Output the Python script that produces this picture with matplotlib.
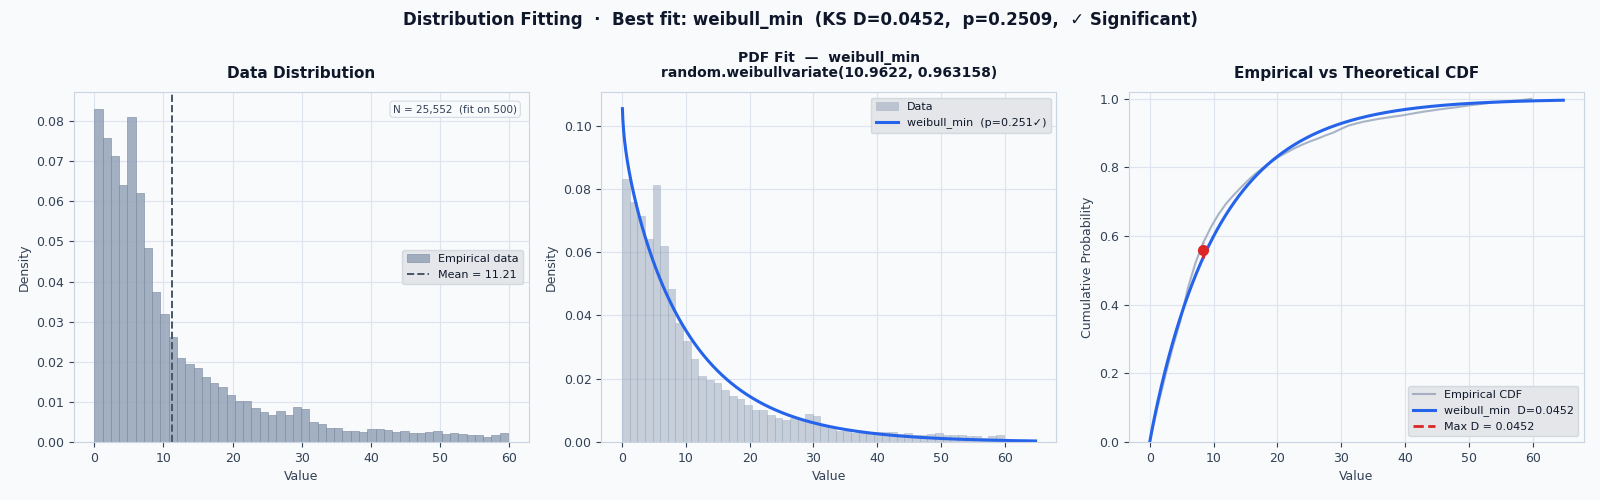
import numpy as np
import matplotlib.pyplot as plt

# histogram densities (50 bins, 0 .. 59.8)
bin_lo = 0.0
bin_hi = 59.8
density = [0.0831, 0.0758, 0.0714, 0.0641, 0.0811, 0.0620, 0.0484, 0.0375, 0.0318, 0.0263,
           0.0210, 0.0195, 0.0185, 0.0163, 0.0146, 0.0136, 0.0118, 0.0101, 0.0101, 0.0086,
           0.0076, 0.0068, 0.0077, 0.0068, 0.0088, 0.0083, 0.0051, 0.0046, 0.0035, 0.0035,
           0.0028, 0.0028, 0.0026, 0.0033, 0.0033, 0.0031, 0.0026, 0.0028, 0.0023, 0.0023,
           0.0026, 0.0028, 0.0021, 0.0023, 0.0021, 0.0018, 0.0018, 0.0013, 0.0018, 0.0023]

# fitted weibull_min parameters and stats
shape = 0.963158
scale = 10.9622
mean_val = 11.21
ks_d = 0.0452
p_val = 0.2509
n_total = 25552
n_fit = 500
x_max_curve = 64.8

BG = '#f8fafc'
SPINE = '#cbd5e1'
GRID = '#dde4ee'
TXT = '#0f172a'
TICK = '#334155'
BAR = '#94a3b8'
BLUE = '#2563eb'
RED = '#dc2626'

plt.rcParams['font.family'] = ['DejaVu Sans']

edges = np.linspace(bin_lo, bin_hi, len(density) + 1)
width = edges[1] - edges[0]
centers = edges[:-1] + width / 2

# theoretical curves
xs = np.linspace(0, x_max_curve, 1000)
xp = xs[1:]
pdf = (shape / scale) * (xp / scale) ** (shape - 1) * np.exp(-(xp / scale) ** shape)
cdf = 1 - np.exp(-(xs / scale) ** shape)

# empirical cdf from the histogram
cum = np.concatenate([[0.0], np.cumsum(np.array(density) * width)])
cum = cum / cum[-1]
cdf_edges = 1 - np.exp(-(edges / scale) ** shape)
imax = np.argmax(np.abs(cum - cdf_edges))
x_d = edges[imax]

fig = plt.figure(figsize=(16, 5), dpi=100, facecolor=BG)
fig.subplots_adjust(left=0.046, right=0.99, top=0.816, bottom=0.116, wspace=0.16)
axes = [fig.add_subplot(1, 3, i + 1) for i in range(3)]

for ax in axes:
    ax.set_facecolor(BG)
    for s in ax.spines.values():
        s.set_color(SPINE)
    ax.grid(True, color=GRID, linewidth=0.8)
    ax.set_axisbelow(True)
    ax.tick_params(colors=TICK, labelsize=9, length=3.5)
    ax.set_xticks([0, 10, 20, 30, 40, 50, 60])

def style_legend(leg):
    leg.get_frame().set_facecolor('#e3e5e8')
    leg.get_frame().set_edgecolor('#d3d8de')
    leg.get_frame().set_alpha(0.95)
    for t in leg.get_texts():
        t.set_color(TXT)

# panel 1
ax = axes[0]
h1 = ax.bar(centers, density, width=width, color=BAR, alpha=0.85, edgecolor='#7d8aa0',
            linewidth=0.5, label='Empirical data')
h2 = ax.axvline(mean_val, color='#475569', linestyle='--', linewidth=1.4,
                label=f'Mean = {mean_val:.2f}')
ax.set_title('Data Distribution', fontsize=11, fontweight='bold', color=TXT, pad=10)
ax.set_xlabel('Value', fontsize=9, color=TICK)
ax.set_ylabel('Density', fontsize=9, color=TICK)
ax.yaxis.set_major_formatter(plt.FormatStrFormatter('%.2f'))
style_legend(ax.legend(handles=[h1, h2], loc='center right', fontsize=8))
ax.text(0.975, 0.965, f'N = {n_total:,}  (fit on {n_fit})', transform=ax.transAxes,
        ha='right', va='top', fontsize=7.5, color=TICK,
        bbox=dict(boxstyle='round,pad=0.3', facecolor=BG, edgecolor='#d3dae3', linewidth=0.8))

# panel 2
ax = axes[1]
h1 = ax.bar(centers, density, width=width, color=BAR, alpha=0.5, edgecolor='#94a3b8',
            linewidth=0.5, label='Data')
h2, = ax.plot(xp, pdf, color=BLUE, linewidth=2.2, label=f'weibull_min  (p={p_val:.3f}\u2713)')
ax.set_title('PDF Fit  \u2014  weibull_min\nrandom.weibullvariate(10.9622, 0.963158)',
             fontsize=10, fontweight='bold', color=TXT, pad=11, linespacing=1.1)
ax.set_xlabel('Value', fontsize=9, color=TICK)
ax.set_ylabel('Density', fontsize=9, color=TICK)
ax.yaxis.set_major_formatter(plt.FormatStrFormatter('%.2f'))
style_legend(ax.legend(handles=[h1, h2], loc='upper right', fontsize=8))

# panel 3
ax = axes[2]
ax.plot(edges, cum, color=BAR, alpha=0.8, linewidth=1.5, label='Empirical CDF')
ax.plot(xs, cdf, color=BLUE, linewidth=2.2, label=f'weibull_min  D={ks_d:.4f}')
ax.plot([x_d, x_d], [cdf_edges[imax], cum[imax]], color=RED, linestyle='--', linewidth=2,
        label=f'Max D = {ks_d:.4f}')
ax.plot([x_d], [(cdf_edges[imax] + cum[imax]) / 2], 'o', color=RED, markersize=7)
ax.set_ylim(0, 1.02)
ax.set_title('Empirical vs Theoretical CDF', fontsize=11, fontweight='bold', color=TXT, pad=10)
ax.set_xlabel('Value', fontsize=9, color=TICK)
ax.set_ylabel('Cumulative Probability', fontsize=9, color=TICK)
style_legend(ax.legend(loc='lower right', fontsize=8))

fig.suptitle(f'Distribution Fitting  \u00b7  Best fit: weibull_min  (KS D={ks_d:.4f},  p={p_val:.4f},  \u2713 Significant)',
             fontsize=12, fontweight='bold', color=TXT, y=0.978)

fig.savefig('out.png', dpi=100, facecolor=BG)
